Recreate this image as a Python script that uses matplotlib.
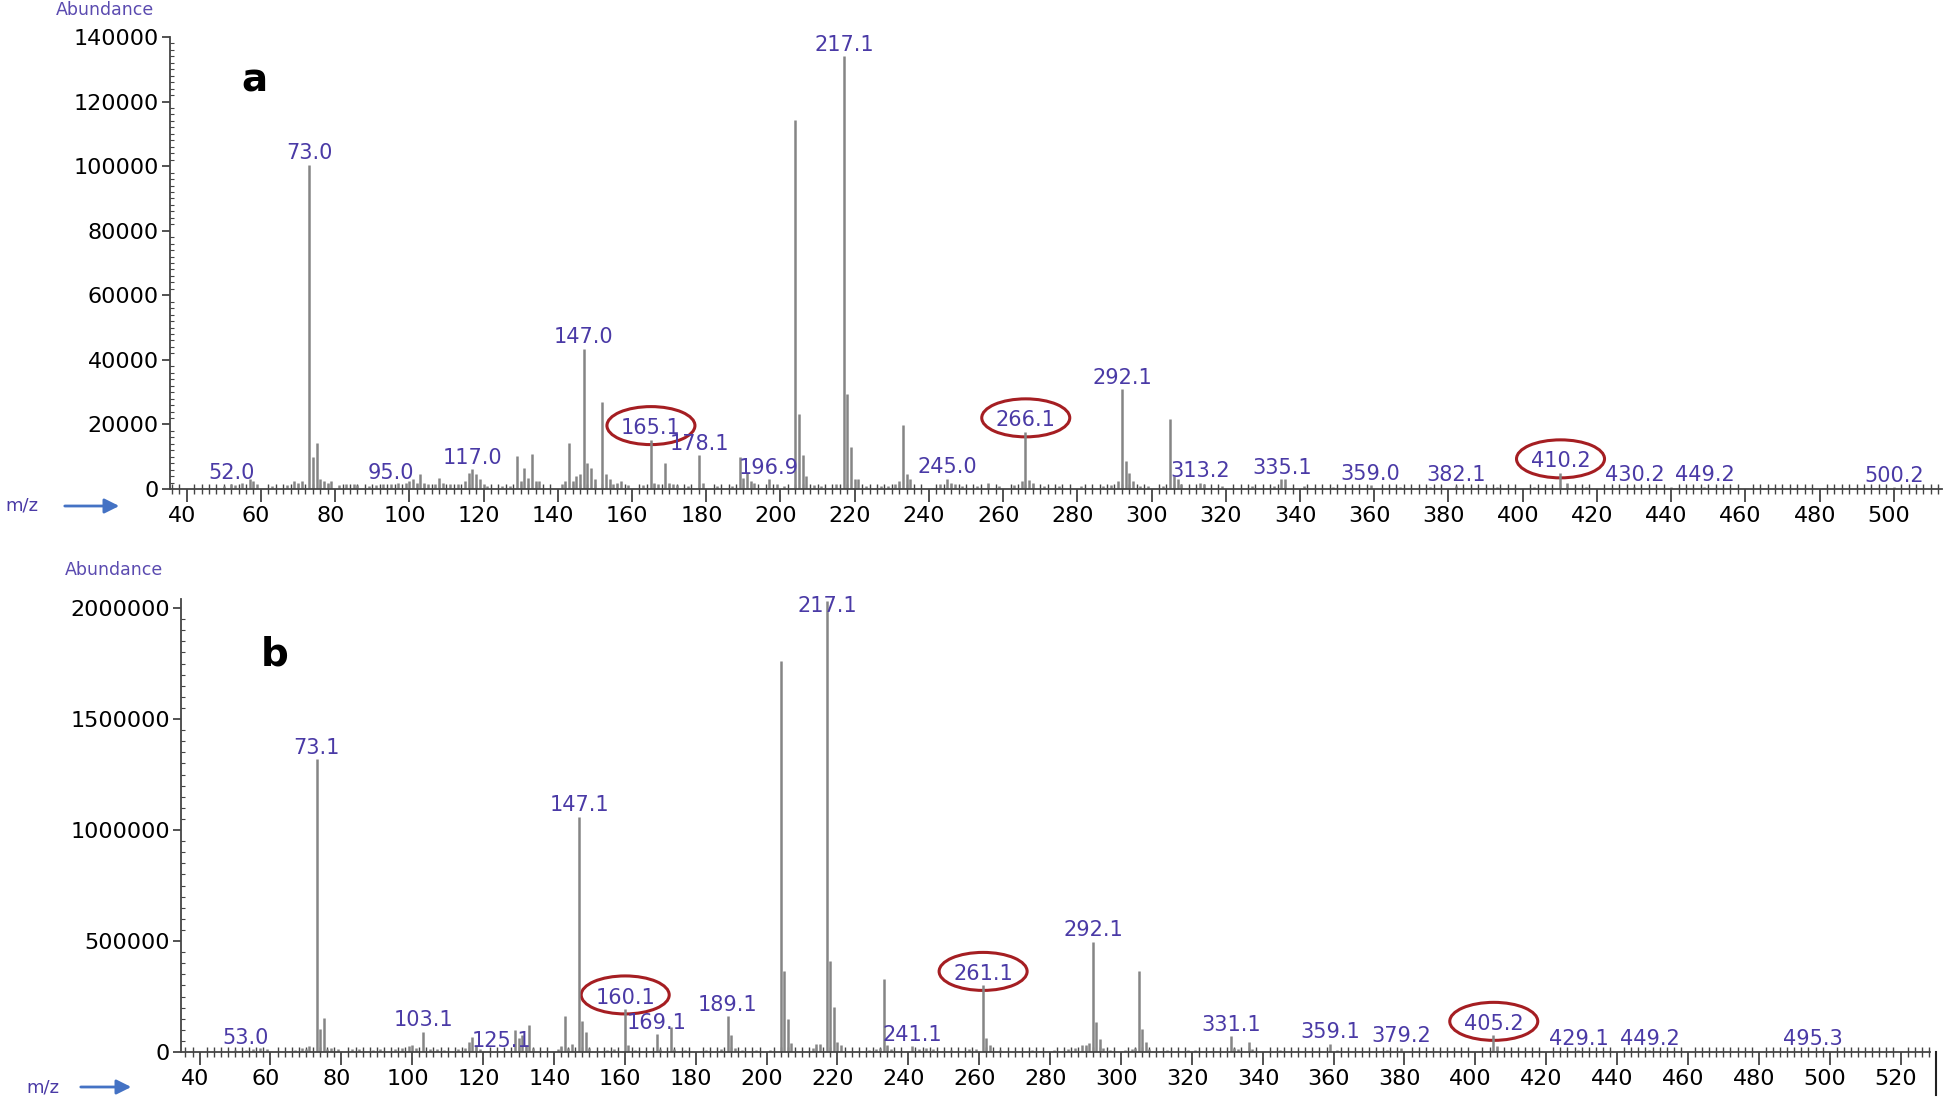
import matplotlib
matplotlib.use('Agg')
import matplotlib.pyplot as plt
from matplotlib.patches import Ellipse, FancyArrowPatch
from matplotlib.transforms import ScaledTranslation
from matplotlib.lines import Line2D
from matplotlib.ticker import MultipleLocator

plt.rcParams['font.family'] = ['DejaVu Sans']

# spectrum a (m/z, abundance)
mz_a = [50, 52, 53, 55, 57, 58, 59, 63, 67, 69, 70, 71, 73, 74, 75, 76, 77, 78, 79, 81,
        83, 85, 86, 89, 91, 93, 95, 97, 99, 100, 101, 102, 103, 104, 105, 107, 108, 109, 111, 113,
        115, 116, 117, 118, 119, 120, 121, 125, 127, 129, 130, 131, 132, 133, 134, 135, 141, 142, 143, 144,
        145, 146, 147, 148, 149, 150, 152, 153, 154, 155, 156, 157, 159, 163, 165, 166, 167, 169, 170, 171,
        172, 175, 178, 179, 183, 187, 189, 190, 191, 192, 193, 197, 199, 201, 204, 205, 206, 207, 209, 211,
        215, 217, 218, 219, 220, 221, 223, 227, 229, 231, 232, 233, 234, 235, 243, 245, 246, 247, 249, 253,
        256, 259, 263, 265, 266, 267, 268, 271, 275, 281, 287, 289, 291, 292, 293, 294, 295, 297, 299, 303,
        305, 306, 307, 308, 313, 314, 319, 327, 333, 335, 336, 341, 349, 359, 367, 375, 382, 393, 403, 410,
        412, 417, 430, 440, 449, 465, 481, 500]
ab_a = [800, 1500, 1200, 2000, 3000, 2500, 1500, 800, 1200, 2500, 2000, 2500, 100500, 9800, 14200, 3000, 2500, 2000, 2500, 1200,
        1500, 1500, 1200, 1000, 1200, 1500, 1500, 2000, 2000, 2500, 3000, 2000, 4500, 2000, 1500, 1500, 3500, 2000, 1500, 1500,
        2500, 5000, 6200, 4500, 3000, 1500, 1000, 800, 1000, 10200, 2500, 6500, 3500, 10900, 2500, 2500, 1500, 2500, 14200, 2500,
        4000, 4500, 43500, 8000, 6500, 3000, 26800, 4500, 3000, 1500, 2000, 2500, 1200, 1200, 15300, 2000, 1500, 8200, 2000, 1500,
        1200, 1000, 10500, 2000, 1000, 1000, 10000, 3500, 5000, 2500, 2000, 3000, 1500, 1000, 114200, 23300, 10600, 3900, 1200, 1000,
        1500, 134000, 29500, 12900, 3000, 3000, 1000, 800, 1000, 1500, 2500, 19800, 4500, 3000, 1500, 3200, 2000, 1500, 1000, 1000,
        1800, 1000, 1200, 2500, 17700, 2900, 2000, 800, 800, 1000, 800, 1200, 2500, 31000, 8800, 5000, 2500, 1000, 800, 1000,
        21800, 4000, 3000, 1500, 2000, 1500, 800, 800, 1000, 3000, 3000, 800, 600, 1200, 500, 600, 800, 500, 600, 5000,
        2000, 600, 700, 500, 700, 400, 400, 600]
labels_a = ["52.0", "73.0", "95.0", "117.0", "147.0", "165.1", "178.1", "196.9", "217.1", "245.0",
            "266.1", "292.1", "313.2", "335.1", "359.0", "382.1", "410.2", "430.2", "449.2", "500.2"]
circled_a = ["165.1", "266.1", "410.2"]

# spectrum b (m/z, abundance)
mz_b = [50, 53, 55, 57, 59, 67, 69, 70, 71, 73, 74, 75, 76, 77, 79, 83, 85, 89, 91, 95,
        97, 99, 100, 101, 103, 105, 107, 109, 113, 115, 116, 117, 118, 119, 129, 130, 131, 132, 133, 134,
        141, 142, 143, 144, 145, 147, 148, 149, 150, 155, 157, 160, 161, 163, 169, 170, 173, 174, 177, 183,
        187, 189, 190, 191, 193, 197, 201, 204, 205, 206, 207, 213, 214, 215, 217, 218, 219, 220, 221, 229,
        231, 232, 233, 234, 235, 241, 243, 245, 247, 252, 257, 259, 261, 262, 263, 266, 275, 281, 285, 287,
        289, 290, 291, 292, 293, 294, 295, 297, 301, 303, 304, 305, 306, 307, 308, 313, 319, 321, 331, 332,
        333, 336, 337, 345, 359, 361, 375, 379, 387, 405, 406, 417, 429, 449, 465, 495]
ab_b = [8000, 10000, 15000, 20000, 12000, 10000, 20000, 15000, 25000, 1318000, 104000, 151000, 15000, 20000, 15000, 12000, 15000, 10000, 12000, 15000,
        20000, 25000, 30000, 20000, 92000, 15000, 12000, 10000, 12000, 20000, 45000, 69000, 30000, 15000, 99000, 61000, 75000, 30000, 122000, 20000,
        15000, 25000, 160000, 20000, 38000, 1060000, 140000, 92000, 20000, 10000, 15000, 194000, 30000, 10000, 81000, 15000, 114000, 15000, 10000, 10000,
        15000, 160000, 78000, 20000, 10000, 10000, 10000, 1760000, 367000, 150000, 40000, 20000, 35000, 37000, 2030000, 412000, 202000, 45000, 30000, 10000,
        15000, 20000, 330000, 30000, 15000, 25000, 15000, 20000, 15000, 10000, 15000, 12000, 300000, 63000, 30000, 10000, 8000, 10000, 15000, 20000,
        30000, 30000, 40000, 497000, 135000, 60000, 20000, 10000, 10000, 15000, 20000, 367000, 105000, 45000, 15000, 8000, 8000, 8000, 70000, 20000,
        15000, 45000, 15000, 8000, 37000, 8000, 8000, 20000, 5000, 75000, 25000, 5000, 8000, 8000, 5000, 6000]
labels_b = ["53.0", "73.1", "103.1", "125.1", "147.1", "160.1", "169.1", "189.1", "217.1", "241.1",
            "261.1", "292.1", "331.1", "359.1", "379.2", "405.2", "429.1", "449.2", "495.3"]
circled_b = ["160.1", "261.1", "405.2"]

W, H = 1946, 1100
LABEL_COLOR = '#4a3aa6'
PEAK_COLOR = '#858585'
AXIS_COLOR = '#444444'
SHIFT = 1.3  # peaks sit a little right of the tick labels in the original


def draw_spectrum(ax, mz, ab, labels, circled, xlim, ylim, yticks, xtick_max):
    ax.vlines(mz, 0, ab, color=PEAK_COLOR, lw=1.8)
    ax.set_xlim(xlim[0] - SHIFT, xlim[1] - SHIFT)
    ax.set_ylim(*ylim)
    ax.set_yticks(yticks)
    ax.set_yticklabels([str(v) for v in yticks])
    ax.set_xticks(list(range(40, xtick_max + 1, 20)))
    ax.xaxis.set_minor_locator(MultipleLocator(2))
    ax.yaxis.set_minor_locator(MultipleLocator(yticks[1] / 10))
    for s in ['top', 'right']:
        ax.spines[s].set_visible(False)
    for s in ['left', 'bottom']:
        ax.spines[s].set_color(AXIS_COLOR)
        ax.spines[s].set_linewidth(1.3)
    ax.tick_params(axis='both', which='major', labelsize=16, color=AXIS_COLOR, width=1.3)
    ax.tick_params(axis='x', which='major', direction='out', length=9, pad=3)
    ax.tick_params(axis='x', which='minor', direction='inout', length=7, width=1.0, color=AXIS_COLOR)
    ax.tick_params(axis='y', which='major', direction='out', length=6, pad=2)
    ax.tick_params(axis='y', which='minor', direction='in', length=3, width=0.8, color=AXIS_COLOR)

    # move the x tick labels back so they stay where the original prints them
    px_per_unit = ax.get_position().width * ax.figure.get_figwidth() / (xlim[1] - xlim[0])
    off = ScaledTranslation(-SHIFT * px_per_unit, 0, ax.figure.dpi_scale_trans)
    for lbl in ax.get_xticklabels():
        lbl.set_transform(lbl.get_transform() + off)

    lookup = dict(zip(mz, ab))
    cap = 0.96 * ylim[1]
    for lab in labels:
        x = float(lab)
        h = lookup.get(round(x), 0)
        y = min(h, cap)
        ax.annotate(lab, (x, y), xytext=(0, 1), textcoords='offset points',
                    ha='center', va='bottom', fontsize=15, color=LABEL_COLOR,
                    annotation_clip=False)
        if lab in circled:
            tr = ax.figure.dpi_scale_trans + ScaledTranslation(x, y, ax.transData)
            ax.add_patch(Ellipse((0, 0.14), 0.88, 0.38, transform=tr, fill=False,
                                 edgecolor='#a51e22', lw=2.2, clip_on=False))


fig = plt.figure(figsize=(W / 100, H / 100), dpi=100)

# panel a
ax_a = fig.add_axes([170 / W, 1 - 489 / H, (1942 - 170) / W, (489 - 37) / H])
draw_spectrum(ax_a, mz_a, ab_a, labels_a, circled_a, (36.8, 514.3), (0, 140000),
              list(range(0, 140001, 20000)), 500)

# panel b
b_bottom = 1 - 1052 / H
b_top_2m = 1 - 608 / H
b_height = (b_top_2m - b_bottom) * 2040000 / 2000000
ax_b = fig.add_axes([181 / W, b_bottom, (1930 - 181) / W, b_height])
draw_spectrum(ax_b, mz_b, ab_b, labels_b, circled_b, (36.05, 529.6), (0, 2040000),
              [0, 500000, 1000000, 1500000, 2000000], 520)

# panel letters
fig.text(254 / W, 1 - 81 / H, 'a', fontsize=28, fontweight='bold', ha='center', va='center')
fig.text(275 / W, 1 - 654 / H, 'b', fontsize=28, fontweight='bold', ha='center', va='center')

# axis captions
for (ax_x, ax_y) in [(105, 10), (114, 570)]:
    fig.text(ax_x / W, 1 - ax_y / H, 'Abundance', fontsize=12.5, color='#5b4bb0',
             ha='center', va='center')

for (tx, y, x0, x1) in [(22, 506, 62, 122), (43, 1087, 78, 134)]:
    fig.text(tx / W, 1 - y / H, 'm/z', fontsize=13, color='#4a3aa6', ha='center', va='center')
    fig.add_artist(FancyArrowPatch(
        (x0 / W, 1 - y / H), (x1 / W, 1 - y / H), transform=fig.transFigure,
        arrowstyle='-|>', mutation_scale=22, color='#4472c4', lw=2))

fig.add_artist(Line2D([1936 / W, 1936 / W], [1 - 1052 / H, 1 - 1095 / H],
                      transform=fig.transFigure, color='#222222', lw=1.5))

fig.savefig('out.png', dpi=100, facecolor='white')
